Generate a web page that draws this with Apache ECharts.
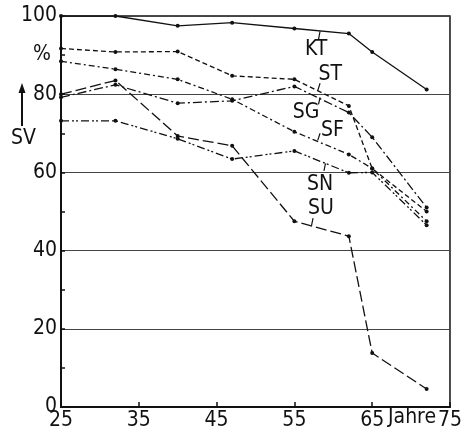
<!DOCTYPE html>
<html><head><meta charset="utf-8">
<script src="https://cdn.jsdelivr.net/npm/echarts@6/dist/echarts.min.js"></script>
<style>html,body{margin:0;padding:0;background:#fff}#c{width:465px;height:436px}</style>
</head><body><div id="c"></div>
<script>
const years = [25, 32, 40, 47, 55, 62, 65, 72];
const KT = [100, 100, 97.5, 98.3, 96.8, 95.5, 90.8, 81.2];
const ST = [91.7, 90.8, 90.9, 84.7, 83.8, 77, 61, 50];
const SG = [79.2, 82.4, 77.7, 78.3, 82, 75.3, 69, 51];
const SF = [88.4, 86.4, 83.8, 78.7, 70.4, 64.6, 61, 47.5];
const SN = [73.2, 73.2, 68.6, 63.4, 65.5, 59.9, 60, 46.5];
const SU = [80, 83.5, 69.3, 66.8, 47.5, 43.7, 13.8, 4.6];
const xTicks = [25, 35, 45, 55, 65, 75];
const yTicks = [0, 20, 40, 60, 80, 100];
const names = ['KT', 'ST', 'SG', 'SF', 'SN', 'SU'];
const labelPos = [[57.8, 91.5], [59.6, 85.1], [56.5, 75.3], [59.9, 70.8], [58.3, 56.9], [58.4, 50.8]];
const leaders = [
  [[58.3, 96.1], [58.1, 94.0]],
  [[58.0, 80.9], [58.3, 82.8]],
  [[58.3, 79.2], [58.1, 77.4]],
  [[58.0, 68.2], [58.3, 70.0]],
  [[59.0, 62.3], [58.8, 60.4]],
  [[57.2, 46.4], [57.4, 48.3]]
];
const dashes = ['solid', [5, 3], [9, 3, 2, 3], [6, 3, 2, 3], [8, 3, 2, 2, 2, 3], [11, 4]];
const values = [KT, ST, SG, SF, SN, SU];
const FONT = '"Liberation Sans Narrow", "DejaVu Sans Condensed", sans-serif';
const INK = '#111';

const chart = echarts.init(document.getElementById('c'), null, {renderer: 'canvas'});
const series = names.map((n, i) => ({
  name: n,
  type: 'line',
  data: years.map((x, j) => [x, values[i][j]]),
  symbol: 'circle',
  symbolSize: 4,
  itemStyle: {color: INK},
  lineStyle: {color: INK, width: 1.3, type: dashes[i]},
  animation: false,
  markPoint: {
    symbol: 'rect', symbolSize: 1, itemStyle: {color: 'rgba(0,0,0,0)'},
    label: {show: true, position: 'inside', formatter: n, fontFamily: FONT, fontSize: 21, color: INK},
    data: [{coord: labelPos[i]}]
  },
  markLine: {
    silent: true, symbol: 'none', label: {show: false},
    lineStyle: {color: INK, width: 1.2, type: 'solid'},
    data: [[{coord: leaders[i][0]}, {coord: leaders[i][1]}]]
  }
}));

chart.setOption({
  backgroundColor: '#fff',
  animation: false,
  grid: {left: 61, right: 13, top: 16, bottom: 29, show: true, borderColor: INK, borderWidth: 1.5, backgroundColor: 'transparent'},
  xAxis: {
    type: 'value', min: 25, max: 75, interval: 10,
    axisLine: {show: true, lineStyle: {color: INK, width: 2}},
    axisTick: {show: true, inside: true, length: 5, lineStyle: {color: INK, width: 1.5}},
    axisLabel: {fontFamily: FONT, fontSize: 21, color: INK, margin: 3,
      formatter: v => xTicks.includes(v) ? String(v) : ''},
    splitLine: {show: false}
  },
  yAxis: {
    type: 'value', min: 0, max: 100, interval: 20,
    axisLine: {show: true, lineStyle: {color: INK, width: 2}},
    axisTick: {show: true, inside: true, length: 4, lineStyle: {color: INK, width: 1.5}},
    minorTick: {show: true, splitNumber: 2, length: 4, lineStyle: {color: INK, width: 1.5}},
    axisLabel: {fontFamily: FONT, fontSize: 21, color: INK, margin: 4,
      formatter: v => yTicks.includes(v) ? String(v) : ''},
    splitLine: {show: true, lineStyle: {color: '#444', width: 1}}
  },
  graphic: [
    {type: 'text', left: 33, top: 44, style: {text: '%', font: '21px ' + FONT, fill: INK}},
    {type: 'text', left: 11, top: 128, style: {text: 'SV', font: '21px ' + FONT, fill: INK}},
    {type: 'line', shape: {x1: 22, y1: 126, x2: 22, y2: 90}, style: {stroke: INK, lineWidth: 2}},
    {type: 'polygon', shape: {points: [[22, 83], [18.5, 93], [25.5, 93]]}, style: {fill: INK}},
    {type: 'text', left: 388, top: 407, style: {text: 'Jahre', font: '21px ' + FONT, fill: INK}}
  ],
  series: series
});
</script></body></html>
